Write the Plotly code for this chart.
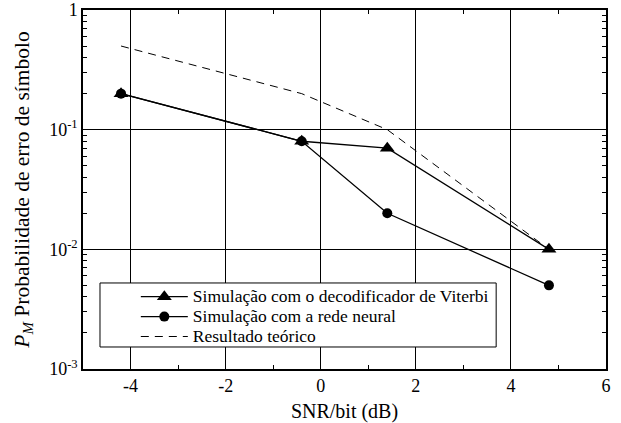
import plotly.graph_objects as go

# Data
snr_viterbi = [-4.2, -0.4, 1.4, 4.8]
pm_viterbi = [0.2, 0.08, 0.07, 0.01]
snr_neural = [-4.2, -0.4, 1.4, 4.8]
pm_neural = [0.2, 0.08, 0.02, 0.005]
snr_theory = [-4.2, -0.4, 1.4, 4.8]
pm_theory = [0.5, 0.2, 0.1, 0.01]

x_ticks = [-4, -2, 0, 2, 4, 6]
x_ticktext = ["-4", "-2", "0", "2", "4", "6"]
x_minor = [-5, -3, -1, 1, 3, 5]
y_ticks = [0.001, 0.01, 0.1, 1]
y_ticktext = ["10<sup>-3</sup>", "10<sup>-2</sup>", "10<sup>-1</sup>", "1"]
y_minor = [m * 10.0 ** e for e in (-3, -2, -1) for m in range(2, 10)]

names = ["Simulação com o decodificador de Viterbi",
         "Simulação com a rede neural",
         "Resultado teórico"]

FONT = "Liberation Serif"
LEG_TXT = '<span style="font-size:17.5px">{}</span>'

fig = go.Figure()
fig.add_trace(go.Scatter(
    x=snr_theory, y=pm_theory, mode="lines",
    line=dict(color="black", width=1, dash="8px,6px"),
    name=LEG_TXT.format(names[2]), legendrank=3))
fig.add_trace(go.Scatter(
    x=snr_neural, y=pm_neural, mode="lines+markers",
    line=dict(color="black", width=1.3),
    marker=dict(symbol="circle", size=10, color="black"),
    name=LEG_TXT.format(names[1]), legendrank=2))
fig.add_trace(go.Scatter(
    x=snr_viterbi, y=pm_viterbi, mode="lines+markers",
    line=dict(color="black", width=1.3),
    marker=dict(symbol="triangle-up", size=13, color="black"),
    name=LEG_TXT.format(names[0]), legendrank=1))

# legend frame (white box with black border)
fig.add_shape(type="rect", xref="paper", yref="paper",
              x0=0.0325, x1=0.79, y0=0.0613, y1=0.2396,
              line=dict(color="black", width=1), fillcolor="white", layer="above")

fig.update_layout(
    width=621, height=423,
    margin=dict(l=83, r=15, t=10, b=54, autoexpand=False),
    paper_bgcolor="white", plot_bgcolor="white",
    font=dict(family=FONT, size=16, color="black"),
    showlegend=True,
    legend=dict(
        x=0.101, y=0.243, xanchor="left", yanchor="top",
        bgcolor="rgba(0,0,0,0)", borderwidth=0,
        font=dict(family=FONT, size=13, color="black"),
        tracegroupgap=0, itemwidth=47,
    ),
    xaxis=dict(
        range=[-5, 6], tickmode="array", tickvals=x_ticks, ticktext=x_ticktext,
        showline=True, linecolor="black", linewidth=1.5, mirror="allticks",
        ticks="inside", ticklen=5, tickcolor="black",
        showgrid=True, gridcolor="black", gridwidth=1,
        zeroline=False, automargin=False,
        tickfont=dict(family=FONT, size=18),
        title=dict(text="SNR/bit (dB)", font=dict(family=FONT, size=20), standoff=12),
        minor=dict(tickmode="array", tickvals=x_minor, ticks="inside",
                   ticklen=4, tickcolor="black", showgrid=False),
    ),
    yaxis=dict(
        type="log", range=[-3, 0], tickmode="array",
        tickvals=y_ticks, ticktext=y_ticktext,
        showline=True, linecolor="black", linewidth=1.5, mirror="allticks",
        ticks="inside", ticklen=5, tickcolor="black",
        showgrid=True, gridcolor="black", gridwidth=1,
        zeroline=False, automargin=False,
        tickfont=dict(family=FONT, size=18),
        title=dict(text="<i>P</i><sub><i>M</i></sub> Probabilidade de erro de símbolo",
                   font=dict(family=FONT, size=21.5), standoff=14),
        minor=dict(tickmode="array", tickvals=y_minor, ticks="inside",
                   ticklen=4, tickcolor="black", showgrid=False),
    ),
)

fig.write_html("out.html")
